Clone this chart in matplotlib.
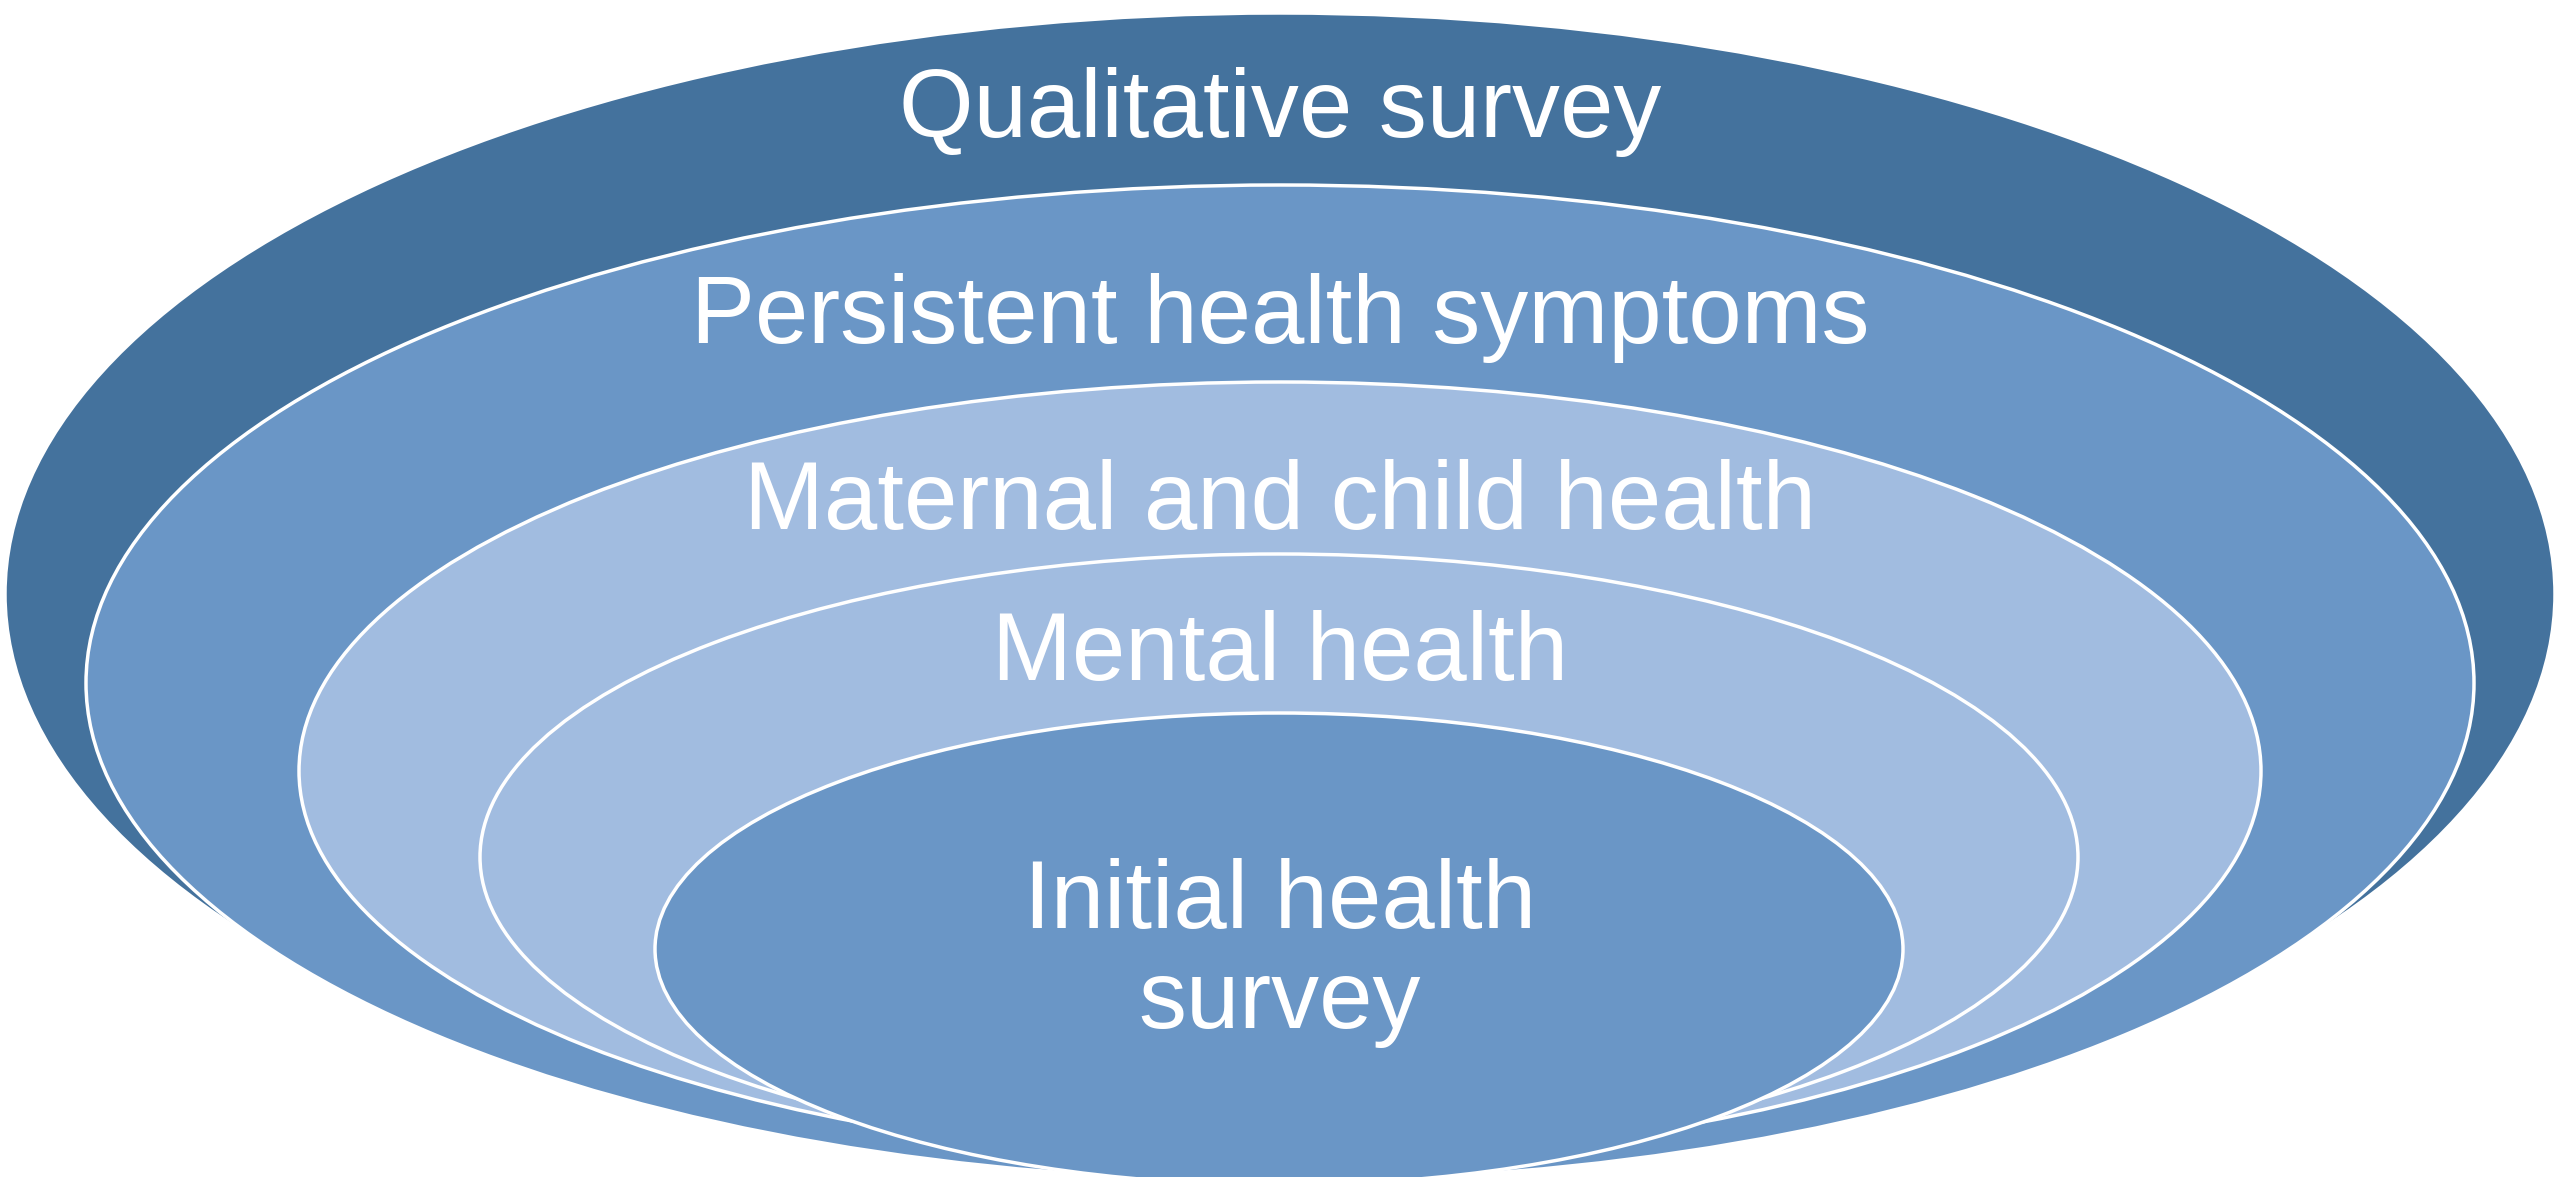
import matplotlib.pyplot as plt
from matplotlib.patches import Ellipse

# Capas del diagrama, de la mas externa a la mas interna
capas = ['Qualitative survey', 'Persistent health symptoms',
         'Maternal and child health', 'Mental health', 'Initial health\nsurvey']
colores = ['#44729D', '#6A96C6', '#A1BCE0', '#A1BCE0', '#6A96C6']

# Geometria de cada elipse (pixeles): centro y semiejes
centro_x = [1280, 1280, 1280, 1279, 1279]
centro_y = [594, 683, 771, 857, 949]
semi_a = [1275, 1194, 981, 799, 624]
semi_b = [581, 498, 389, 303, 236]

# Linea base de cada texto
texto_y = [137, 343, 529, 680, 928]

plt.rcParams['font.family'] = ['Liberation Sans', 'DejaVu Sans']

fig = plt.figure(figsize=(25.6, 11.77), dpi=100)
ax = fig.add_axes([0, 0, 1, 1])
ax.set_xlim(0, 2560)
ax.set_ylim(1177, 0)
ax.axis('off')

for i, capa in enumerate(capas):
    e = Ellipse((centro_x[i], centro_y[i]), 2 * semi_a[i], 2 * semi_b[i],
                facecolor=colores[i], edgecolor='white', linewidth=2.5, zorder=i + 1)
    ax.add_patch(e)

for i, capa in enumerate(capas):
    lineas = capa.split('\n')
    for j, linea in enumerate(lineas):
        ax.text(1280, texto_y[i] + j * 100, linea, color='white', fontsize=69,
                ha='center', va='baseline', zorder=10)

fig.savefig('out.png', dpi=100)
